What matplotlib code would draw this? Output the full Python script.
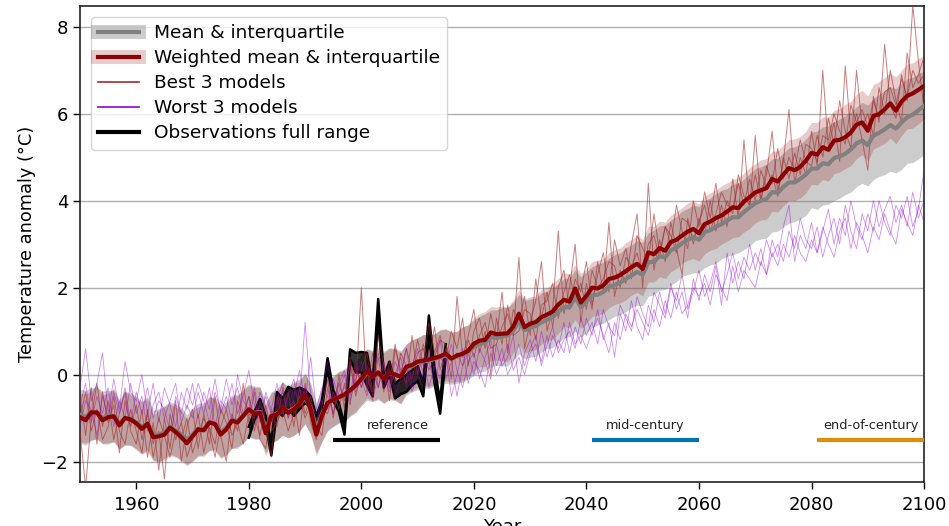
import numpy as np
import matplotlib
matplotlib.use("Agg")
import matplotlib.pyplot as plt
from matplotlib.lines import Line2D

years = list(range(1950, 2101))

# Weighted multi-model mean (dark red)
wm = [-0.98, -1.05, -0.87, -0.87, -1.05, -0.98, -0.96, -1.17, -1.00, -1.03,
      -1.12, -1.25, -1.13, -1.44, -1.42, -1.38, -1.22, -1.32, -1.44, -1.58,
      -1.42, -1.26, -1.28, -1.10, -1.14, -1.38, -1.26, -1.06, -1.10, -0.95,
      -0.80, -0.90, -0.88, -1.35, -0.95, -0.92, -0.75, -0.88, -0.80, -0.68,
      -0.47, -0.80, -1.38, -0.95, -0.65, -0.58, -0.52, -0.46, -0.36, -0.25,
      -0.10, 0.08, -0.05, 0.05, -0.10, 0.05, 0.00, -0.05, 0.18, 0.22,
      0.30, 0.32, 0.35, 0.38, 0.42, 0.48, 0.37, 0.44, 0.48, 0.55,
      0.71, 0.78, 0.80, 0.97, 0.93, 0.94, 0.95, 1.10, 1.40, 1.09,
      1.17, 1.21, 1.32, 1.38, 1.45, 1.61, 1.72, 1.68, 1.98, 1.66,
      1.81, 2.00, 1.98, 2.05, 2.20, 2.23, 2.29, 2.38, 2.47, 2.55,
      2.43, 2.81, 2.77, 2.91, 2.85, 3.05, 3.10, 3.20, 3.29, 3.35,
      3.25, 3.46, 3.52, 3.60, 3.66, 3.75, 3.85, 3.83, 3.98, 4.08,
      4.19, 4.24, 4.29, 4.50, 4.44, 4.60, 4.75, 4.70, 4.78, 4.92,
      5.10, 5.06, 5.23, 5.17, 5.38, 5.40, 5.46, 5.57, 5.75, 5.80,
      5.61, 5.95, 5.99, 6.10, 6.24, 6.07, 6.28, 6.41, 6.47, 6.55,
      6.64]
wm_up = [0.55, 0.60, 0.50, 0.62, 0.58, 0.55, 0.65, 0.52, 0.60, 0.57,
         0.55, 0.62, 0.58, 0.50, 0.60, 0.64, 0.55, 0.58, 0.62, 0.55,
         0.60, 0.52, 0.58, 0.62, 0.55, 0.60, 0.58, 0.55, 0.62, 0.58,
         0.55, 0.60, 0.58, 0.62, 0.55, 0.50, 0.58, 0.55, 0.60, 0.52,
         0.50, 0.55, 0.55, 0.60, 0.55, 0.52, 0.58, 0.55, 0.60, 0.55,
         0.55, 0.50, 0.58, 0.52, 0.60, 0.55, 0.58, 0.55, 0.52, 0.58,
         0.55, 0.60, 0.58, 0.55, 0.62, 0.58, 0.60, 0.55, 0.62, 0.60,
         0.60, 0.62, 0.65, 0.60, 0.62, 0.64, 0.60, 0.62, 0.55, 0.65,
         0.62, 0.60, 0.64, 0.62, 0.65, 0.60, 0.62, 0.64, 0.55, 0.66,
         0.62, 0.60, 0.65, 0.62, 0.60, 0.64, 0.62, 0.66, 0.63, 0.65,
         0.68, 0.60, 0.64, 0.62, 0.66, 0.62, 0.65, 0.64, 0.66, 0.63,
         0.68, 0.64, 0.66, 0.65, 0.68, 0.66, 0.64, 0.70, 0.66, 0.68,
         0.66, 0.70, 0.68, 0.64, 0.70, 0.68, 0.66, 0.72, 0.70, 0.68,
         0.70, 0.74, 0.70, 0.75, 0.70, 0.72, 0.76, 0.72, 0.70, 0.74,
         0.80, 0.72, 0.75, 0.74, 0.70, 0.78, 0.72, 0.74, 0.70, 0.72,
         0.70]
wm_dn = [0.60, 0.58, 0.65, 0.60, 0.55, 0.62, 0.58, 0.55, 0.62, 0.60,
         0.62, 0.58, 0.64, 0.55, 0.58, 0.60, 0.65, 0.58, 0.55, 0.52,
         0.58, 0.62, 0.60, 0.65, 0.62, 0.55, 0.60, 0.64, 0.60, 0.62,
         0.62, 0.58, 0.60, 0.52, 0.62, 0.60, 0.64, 0.58, 0.60, 0.62,
         0.65, 0.58, 0.50, 0.60, 0.62, 0.60, 0.58, 0.62, 0.58, 0.60,
         0.58, 0.62, 0.56, 0.60, 0.55, 0.60, 0.58, 0.62, 0.60, 0.58,
         0.60, 0.58, 0.62, 0.60, 0.58, 0.62, 0.55, 0.60, 0.62, 0.60,
         0.62, 0.60, 0.62, 0.64, 0.60, 0.62, 0.65, 0.60, 0.70, 0.60,
         0.62, 0.64, 0.62, 0.60, 0.64, 0.66, 0.62, 0.60, 0.72, 0.60,
         0.64, 0.66, 0.62, 0.64, 0.66, 0.62, 0.64, 0.66, 0.64, 0.66,
         0.62, 0.68, 0.64, 0.66, 0.64, 0.68, 0.66, 0.64, 0.66, 0.68,
         0.64, 0.68, 0.66, 0.70, 0.66, 0.68, 0.70, 0.66, 0.70, 0.72,
         0.70, 0.68, 0.72, 0.74, 0.70, 0.72, 0.74, 0.70, 0.72, 0.74,
         0.72, 0.70, 0.74, 0.72, 0.76, 0.74, 0.72, 0.76, 0.78, 0.74,
         0.70, 0.76, 0.74, 0.78, 0.80, 0.76, 0.78, 0.76, 0.80, 0.78,
         0.76]

# Unweighted multi-model mean (grey)
mm = [-0.92, -0.98, -0.85, -0.88, -1.00, -0.95, -0.95, -1.12, -1.00, -1.02,
      -1.10, -1.20, -1.12, -1.38, -1.38, -1.33, -1.20, -1.28, -1.38, -1.50,
      -1.38, -1.24, -1.25, -1.10, -1.12, -1.32, -1.22, -1.05, -1.06, -0.95,
      -0.82, -0.88, -0.86, -1.25, -0.95, -0.90, -0.76, -0.85, -0.78, -0.68,
      -0.52, -0.78, -1.25, -0.92, -0.66, -0.58, -0.52, -0.45, -0.36, -0.26,
      -0.12, 0.05, -0.04, 0.04, -0.08, 0.04, 0.00, -0.03, 0.15, 0.20,
      0.27, 0.30, 0.32, 0.36, 0.40, 0.44, 0.36, 0.42, 0.46, 0.52,
      0.64, 0.70, 0.74, 0.86, 0.85, 0.88, 0.90, 1.00, 1.22, 1.02,
      1.08, 1.12, 1.20, 1.26, 1.32, 1.45, 1.55, 1.55, 1.78, 1.55,
      1.68, 1.82, 1.84, 1.90, 2.02, 2.06, 2.12, 2.20, 2.28, 2.36,
      2.30, 2.58, 2.60, 2.72, 2.70, 2.86, 2.92, 3.02, 3.10, 3.16,
      3.10, 3.28, 3.32, 3.40, 3.46, 3.54, 3.62, 3.62, 3.74, 3.84,
      3.94, 4.00, 4.04, 4.20, 4.18, 4.32, 4.42, 4.42, 4.50, 4.60,
      4.74, 4.74, 4.86, 4.84, 4.98, 5.02, 5.08, 5.18, 5.32, 5.38,
      5.28, 5.50, 5.56, 5.64, 5.74, 5.66, 5.80, 5.92, 5.98, 6.08,
      6.18]
mm_up = [0.58, 0.62, 0.55, 0.60, 0.62, 0.58, 0.60, 0.55, 0.62, 0.60,
         0.60, 0.58, 0.62, 0.55, 0.60, 0.62, 0.58, 0.60, 0.62, 0.58,
         0.62, 0.58, 0.60, 0.58, 0.60, 0.62, 0.60, 0.58, 0.60, 0.62,
         0.60, 0.62, 0.58, 0.60, 0.55, 0.58, 0.60, 0.58, 0.62, 0.58,
         0.55, 0.58, 0.60, 0.62, 0.58, 0.55, 0.60, 0.58, 0.62, 0.58,
         0.58, 0.55, 0.60, 0.58, 0.62, 0.58, 0.60, 0.58, 0.55, 0.60,
         0.58, 0.62, 0.60, 0.58, 0.62, 0.60, 0.62, 0.58, 0.64, 0.62,
         0.62, 0.64, 0.66, 0.62, 0.64, 0.66, 0.64, 0.66, 0.62, 0.68,
         0.66, 0.64, 0.68, 0.66, 0.68, 0.64, 0.66, 0.68, 0.62, 0.70,
         0.68, 0.66, 0.70, 0.68, 0.66, 0.70, 0.68, 0.72, 0.70, 0.72,
         0.74, 0.68, 0.72, 0.70, 0.74, 0.70, 0.72, 0.74, 0.72, 0.74,
         0.76, 0.72, 0.74, 0.76, 0.78, 0.74, 0.76, 0.78, 0.76, 0.78,
         0.80, 0.78, 0.80, 0.76, 0.80, 0.78, 0.80, 0.82, 0.80, 0.82,
         0.84, 0.86, 0.84, 0.88, 0.84, 0.86, 0.88, 0.86, 0.84, 0.88,
         0.92, 0.86, 0.88, 0.90, 0.88, 0.92, 0.90, 0.88, 0.86, 0.84,
         0.80]
mm_dn = [0.62, 0.60, 0.65, 0.60, 0.58, 0.62, 0.60, 0.58, 0.62, 0.60,
         0.60, 0.62, 0.60, 0.58, 0.62, 0.60, 0.64, 0.60, 0.58, 0.56,
         0.60, 0.62, 0.60, 0.64, 0.60, 0.58, 0.62, 0.64, 0.60, 0.62,
         0.62, 0.60, 0.62, 0.55, 0.62, 0.60, 0.64, 0.60, 0.62, 0.62,
         0.62, 0.60, 0.55, 0.62, 0.64, 0.62, 0.60, 0.62, 0.60, 0.62,
         0.60, 0.64, 0.58, 0.62, 0.58, 0.62, 0.60, 0.64, 0.62, 0.60,
         0.62, 0.60, 0.64, 0.62, 0.60, 0.64, 0.58, 0.62, 0.64, 0.62,
         0.66, 0.64, 0.66, 0.68, 0.64, 0.68, 0.70, 0.66, 0.74, 0.66,
         0.68, 0.70, 0.68, 0.66, 0.70, 0.72, 0.70, 0.68, 0.78, 0.68,
         0.72, 0.74, 0.70, 0.72, 0.76, 0.72, 0.74, 0.76, 0.74, 0.76,
         0.72, 0.78, 0.76, 0.78, 0.74, 0.80, 0.78, 0.76, 0.80, 0.82,
         0.76, 0.82, 0.80, 0.84, 0.80, 0.82, 0.86, 0.82, 0.86, 0.88,
         0.86, 0.88, 0.90, 0.92, 0.88, 0.92, 0.94, 0.90, 0.92, 0.94,
         0.90, 0.94, 0.96, 0.92, 0.98, 0.96, 0.94, 0.98, 1.00, 0.98,
         0.94, 1.02, 1.00, 1.04, 1.06, 1.02, 1.08, 1.06, 1.10, 1.12,
         1.12]

# Best 3 models (highest weights)
best1 = [-1.3, -2.6, -1.0, -0.2, -1.2, -0.6, -1.5, -0.9, -0.4, -1.3,
         -1.6, -0.8, -1.9, -1.1, -2.2, -1.0, -1.7, -0.6, -2.0, -1.2,
         -0.8, -1.7, -0.9, -1.6, -0.5, -1.4, -2.0, -0.9, -1.3, -0.2,
         -1.1, -0.4, -1.5, -1.7, -0.8, -1.2, -0.3, -1.0, -0.6, -1.4,
         -0.2, -1.1, -1.5, -0.7, -0.1, -1.0, 0.0, -0.8, 0.4, -0.3,
         2.0, -0.4, 0.5, -0.3, 0.3, -0.6, 0.6, 0.1, -0.2, 0.9,
         0.0, 0.7, 0.3, 1.1, 0.1, 0.6, -0.1, 1.8, 0.4, 0.9,
         1.5, 0.5, 1.0, 0.0, 1.3, 0.7, 1.6, 0.9, 2.7, 0.6,
         1.2, 1.7, 2.6, 1.0, 1.5, 3.3, 1.4, 2.0, 3.0, 1.2,
         2.1, 1.5, 2.6, 1.9, 3.5, 1.8, 2.4, 2.1, 3.0, 3.7,
         2.0, 4.4, 2.4, 3.1, 2.6, 3.5, 2.9, 2.3, 3.6, 3.0,
         3.6, 3.2, 4.0, 3.3, 3.9, 3.4, 4.5, 3.6, 5.4, 3.8,
         5.5, 4.0, 4.6, 5.6, 4.2, 4.9, 6.1, 4.4, 5.0, 4.6,
         5.6, 4.8, 7.0, 5.2, 5.8, 4.9, 7.1, 5.5, 6.0, 5.4,
         4.7, 6.4, 5.8, 7.6, 6.2, 5.9, 6.9, 6.3, 8.5, 7.2,
         6.1]
best2 = [-0.5, -1.4, -0.3, -1.6, -0.4, -1.1, -0.7, -1.8, -0.6, -1.2,
         -0.7, -1.5, -0.9, -1.9, -1.3, -2.4, -0.9, -1.5, -1.1, -1.9,
         -1.5, -0.9, -1.8, -1.2, -1.6, -0.8, -1.1, -1.7, -0.6, -1.0,
         -0.5, -1.3, -0.6, -1.1, -1.9, -0.5, -1.0, -0.4, -1.2, -0.3,
         -0.9, -0.5, -1.2, -1.4, -0.3, -0.9, -0.2, -0.6, 0.3, -0.5,
         0.1, 0.5, -0.4, 0.9, 0.2, -0.3, 0.7, 0.0, 0.6, 0.1,
         0.8, 0.2, 1.2, 0.5, 0.9, 0.3, 1.0, 0.6, 1.3, 0.2,
         1.0, 1.3, 0.6, 1.4, 0.8, 1.9, 0.5, 1.5, 1.2, 1.8,
         0.9, 2.2, 1.3, 1.9, 1.1, 2.0, 2.4, 1.5, 2.2, 1.9,
         2.6, 1.6, 2.3, 2.8, 1.9, 3.1, 2.5, 2.9, 2.2, 3.2,
         2.9, 2.6, 3.7, 2.8, 3.4, 3.0, 3.9, 3.3, 2.9, 4.0,
         3.4, 4.2, 3.6, 4.4, 3.5, 4.0, 3.7, 4.6, 4.1, 3.9,
         4.6, 4.0, 4.8, 4.4, 5.2, 4.5, 5.0, 4.7, 5.4, 4.9,
         4.8, 5.5, 5.0, 5.9, 5.3, 6.3, 5.6, 5.2, 7.0, 5.7,
         6.0, 5.5, 6.6, 6.0, 7.0, 6.3, 5.8, 7.4, 6.6, 6.9,
         7.3]
best3 = [-1.0, -0.4, -1.3, -0.8, -1.5, -1.2, -0.5, -1.3, -1.6, -0.8,
         -1.3, -1.8, -0.8, -1.6, -1.0, -1.4, -1.9, -1.3, -1.5, -1.0,
         -1.8, -1.4, -1.0, -1.3, -1.9, -1.2, -0.8, -1.4, -1.1, -1.6,
         -0.9, -1.0, -1.4, -0.7, -1.3, -1.1, -0.8, -1.3, -0.9, -0.5,
         -1.0, -0.7, -1.1, -0.8, -0.9, -0.4, -0.8, -0.2, -0.7, 0.2,
         -0.3, 0.1, -0.5, 0.4, -0.4, 0.3, -0.2, 0.5, 0.2, -0.1,
         0.5, 0.6, 0.1, 0.4, 0.8, 0.7, 0.3, 0.5, 0.2, 0.8,
         0.4, 0.9, 1.2, 0.6, 0.7, 1.1, 1.4, 0.9, 1.0, 1.5,
         1.4, 0.8, 1.6, 1.7, 2.1, 1.3, 1.9, 2.3, 1.7, 2.1,
         1.5, 2.4, 2.0, 2.2, 2.6, 2.5, 2.0, 2.7, 2.5, 2.8,
         2.3, 3.0, 3.2, 2.7, 3.4, 3.2, 2.8, 3.6, 3.5, 3.1,
         3.5, 3.9, 3.3, 3.7, 4.2, 3.9, 3.8, 4.4, 3.9, 4.5,
         4.0, 4.7, 4.3, 4.6, 4.1, 5.0, 4.5, 5.1, 4.6, 5.3,
         5.2, 4.9, 5.5, 5.4, 6.0, 5.6, 5.3, 6.2, 5.8, 6.1,
         5.7, 6.3, 5.9, 6.5, 6.6, 6.2, 6.8, 6.4, 7.0, 6.7,
         6.9]

# Worst 3 models (lowest weights)
worst1 = [-0.3, 0.6, -0.6, -0.2, 0.5, -0.9, -0.1, -0.8, 0.3, -0.4,
          -0.6, 0.0, -0.9, -0.2, -1.1, -0.3, -0.7, -1.2, -0.4, -0.8,
          -0.2, -1.0, -0.4, -0.8, -0.1, -0.9, -0.5, -1.1, 0.0, -0.6,
          -0.8, -0.3, -1.0, -0.5, -0.9, -0.6, -0.2, -0.8, -0.3, -0.7,
          1.2, -0.5, -1.2, -0.4, 0.3, -0.6, -0.2, 0.1, -0.5, 0.3,
          -0.3, 0.2, -0.1, 0.5, 0.0, -0.4, 0.3, 0.0, 0.6, -0.3,
          0.2, -0.2, 0.5, 0.1, 0.8, -0.1, 0.3, -0.5, 0.2, 0.5,
          0.0, 0.6, 0.3, -0.1, 0.7, 0.2, 0.4, 0.9, -0.2, 0.5,
          0.8, 0.3, 1.0, 0.4, 0.9, 0.6, 1.2, 0.5, 1.1, 0.7,
          1.3, 0.9, 1.5, 0.8, 1.2, 0.4, 1.4, 1.0, 1.7, 1.1,
          0.8, 1.6, 1.2, 1.9, 1.4, 2.1, 1.5, 1.9, 1.3, 2.2,
          1.7, 2.3, 1.9, 2.5, 1.6, 2.8, 2.1, 2.6, 2.2, 3.0,
          2.4, 2.9, 2.3, 3.1, 2.7, 3.4, 3.9, 2.6, 3.2, 2.9,
          3.5, 2.8, 3.3, 3.8, 3.0, 3.6, 3.2, 4.0, 3.4, 3.1,
          3.7, 3.3, 4.0, 3.5, 3.2, 3.9, 3.6, 4.1, 3.4, 3.8,
          4.7]
worst2 = [-0.7, -0.2, -1.1, -0.5, -0.9, -0.3, -1.2, -0.6, -1.0, -0.2,
          -0.9, -0.5, -1.3, -0.7, -0.4, -1.0, -0.6, -0.2, -1.1, -0.7,
          -1.0, -0.4, -0.9, -0.3, -1.2, -0.6, -0.8, -0.2, -0.9, -0.5,
          0.1, -0.7, -1.1, -0.4, -0.8, -0.2, -0.9, -0.5, -0.1, -0.8,
          -0.3, -0.7, -0.9, -0.6, -0.8, -0.1, -0.5, -0.3, 0.2, -0.4,
          -0.1, -0.5, 0.1, -0.3, 0.3, -0.2, 0.0, 0.4, -0.3, 0.2,
          0.6, 0.0, 0.3, -0.2, 0.4, 0.2, 0.7, 0.1, -0.3, 0.3,
          0.5, -0.1, 0.4, 0.8, 0.2, 0.6, 0.0, 0.3, 0.7, 0.2,
          0.6, 0.9, 0.2, 0.7, 1.1, 0.5, 0.8, 1.0, 0.6, 1.3,
          0.9, 1.2, 0.7, 1.5, 1.1, 0.9, 1.6, 1.3, 1.0, 1.8,
          1.4, 1.1, 1.9, 1.6, 1.3, 2.0, 1.7, 2.3, 1.5, 1.9,
          2.4, 1.8, 2.1, 2.6, 1.9, 2.3, 2.8, 2.2, 2.7, 2.4,
          2.8, 2.5, 3.1, 2.7, 3.0, 2.6, 3.3, 2.9, 3.6, 3.1,
          2.9, 3.4, 2.7, 3.2, 3.6, 3.0, 3.9, 3.3, 2.9, 3.7,
          3.3, 4.0, 3.4, 3.8, 4.1, 3.5, 3.9, 3.4, 4.2, 3.6,
          4.0]
worst3 = [-1.2, -0.6, -0.8, -1.4, -0.5, -1.0, -0.4, -0.9, -0.3, -1.1,
          -0.4, -0.9, -0.3, -1.0, -0.6, -0.8, -1.3, -0.5, -0.9, -0.3,
          -0.7, -0.2, -0.6, -1.1, -0.4, -0.8, -0.1, -0.7, -0.3, -0.9,
          -0.5, -1.0, -0.4, -0.8, -1.2, -0.7, -0.4, -1.0, -0.5, 0.1,
          -0.6, 0.4, -0.8, -0.3, -0.5, -0.9, -0.4, 0.0, -0.6, -0.1,
          0.3, -0.2, -0.6, 0.0, -0.3, 0.1, -0.5, -0.1, 0.2, -0.4,
          0.0, 0.4, -0.3, 0.2, -0.1, 0.5, -0.5, 0.0, 0.6, -0.2,
          0.3, 0.1, -0.3, 0.5, 0.0, 0.3, 0.7, 0.1, 0.4, 0.0,
          0.5, 0.7, 0.3, 0.9, 0.4, 0.8, 0.5, 1.2, 0.7, 0.9,
          0.6, 1.0, 1.3, 0.9, 0.5, 1.2, 0.8, 1.4, 1.1, 1.5,
          1.2, 0.9, 1.5, 1.1, 1.7, 1.3, 1.9, 1.4, 1.6, 2.0,
          1.8, 2.1, 1.6, 2.3, 2.0, 1.7, 2.5, 1.9, 2.4, 2.2,
          2.0, 2.6, 2.3, 2.8, 2.5, 3.0, 2.7, 3.2, 2.8, 2.6,
          3.1, 2.8, 3.4, 3.0, 2.7, 3.3, 3.6, 2.9, 3.5, 3.2,
          2.8, 3.4, 3.1, 3.7, 3.3, 3.0, 3.8, 3.5, 3.2, 3.9,
          3.5]

# Observations full range
obs_years = list(range(1980, 2016))
obs_lo = [-1.45, -1.05, -0.80, -1.15, -1.86, -0.85, -0.95, -0.75, -0.95, -0.80,
          -0.65, -0.75, -1.20, -0.80, 0.15, -0.60, -0.85, -1.38, 0.35, 0.05,
          0.05, -0.25, -0.50, 1.25, -0.30, 0.00, -0.55, -0.45, -0.40, -0.25,
          -0.15, -0.50, 0.90, -0.20, -0.90, 0.40]
obs_hi = [-1.20, -0.85, -0.56, -0.95, -1.55, -0.40, -0.55, -0.28, -0.35, -0.30,
          -0.35, -0.50, -0.95, -0.60, 0.38, -0.35, -0.65, -1.15, 0.58, 0.50,
          0.52, 0.50, -0.20, 1.74, -0.05, 0.30, -0.20, -0.10, 0.00, 0.10,
          0.20, -0.20, 1.36, 0.15, -0.60, 0.70]

# Periods
period_names = ["reference", "mid-century", "end-of-century"]
period_start = [1995, 2041, 2081]
period_end = [2014, 2060, 2100]
period_label_x = [2006.5, 2050.5, 2090.5]
period_colors = ["black", "#0173b2", "#de8f05"]

plt.rcParams['font.family'] = ['DejaVu Sans']
fig = plt.figure(figsize=(9.49, 5.26), dpi=100)
ax = fig.add_axes([0.0843, 0.0837, 0.8894, 0.905])

yr = np.array(years)
wm_a = np.array(wm)
mm_a = np.array(mm)

ax.fill_between(yr, mm_a - np.array(mm_dn), mm_a + np.array(mm_up),
                color='gray', alpha=0.4, lw=0, zorder=1)
ax.fill_between(yr, wm_a - np.array(wm_dn), wm_a + np.array(wm_up),
                color='darkred', alpha=0.2, lw=0, zorder=2)

ax.fill_between(obs_years, obs_lo, obs_hi, color='black', alpha=0.8, lw=0, zorder=3)
ax.plot(obs_years, obs_lo, color='black', lw=1.8, zorder=3)
ax.plot(obs_years, obs_hi, color='black', lw=1.8, zorder=3)

for b in (best1, best2, best3):
    ax.plot(yr, b, color='brown', lw=0.7, alpha=0.6, zorder=4)
for w in (worst1, worst2, worst3):
    ax.plot(yr, w, color='darkviolet', lw=0.6, alpha=0.45, zorder=4)

ax.plot(yr, mm_a, color='gray', lw=3, zorder=5)
ax.plot(yr, wm_a, color='darkred', lw=3, zorder=6)

for name, s, e, lx, c in zip(period_names, period_start, period_end, period_label_x, period_colors):
    ax.plot([s, e], [-1.5, -1.5], color=c, lw=3, zorder=7, solid_capstyle='butt')
    ax.text(lx, -1.33, name, ha='center', va='bottom', fontsize=9.3, color='#222222', zorder=7)

ax.set_xlim(1950, 2100)
ax.set_ylim(-2.47, 8.48)
ax.set_xticks([1960, 1980, 2000, 2020, 2040, 2060, 2080, 2100])
ax.set_yticks([-2, 0, 2, 4, 6, 8])
ax.tick_params(labelsize=13, length=5, width=1)
ax.tick_params(axis='x', pad=5)
ax.yaxis.grid(True, color='#b0b0b0', lw=1)
ax.set_axisbelow(True)
ax.set_ylabel('Temperature anomaly (°C)', fontsize=12.8)
ax.set_xlabel('Year', fontsize=13, labelpad=3)
for sp in ax.spines.values():
    sp.set_linewidth(1.2)
    sp.set_color('#222222')

h_mean = (Line2D([], [], color='gray', alpha=0.4, lw=10), Line2D([], [], color='gray', lw=3))
h_wm = (Line2D([], [], color='darkred', alpha=0.2, lw=10), Line2D([], [], color='darkred', lw=3))
h_best = Line2D([], [], color='brown', lw=1.2)
h_worst = Line2D([], [], color='darkviolet', lw=1.2)
h_obs = Line2D([], [], color='black', lw=3)
ax.legend([h_mean, h_wm, h_best, h_worst, h_obs],
          ['Mean & interquartile', 'Weighted mean & interquartile', 'Best 3 models',
           'Worst 3 models', 'Observations full range'],
          loc='upper left', fontsize=13.3, handlelength=2.2, labelspacing=0.38,
          borderaxespad=0.6)

fig.savefig('out.png', dpi=100)
